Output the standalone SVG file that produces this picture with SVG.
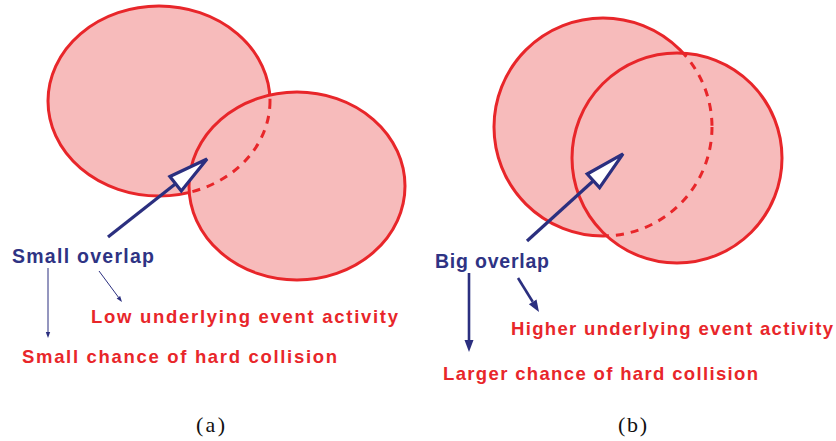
<svg xmlns="http://www.w3.org/2000/svg" width="836" height="441" viewBox="0 0 836 441">
<style>
.fill{fill:#f7bbbb;stroke:#e8262a;stroke-width:3}
.dash{fill:none;stroke:#e8262a;stroke-width:3;stroke-dasharray:8 7}
.navy{font-family:"Liberation Sans",Arial,sans-serif;font-weight:bold;font-size:19.5px;fill:#2e3384}
.red{font-family:"Liberation Sans",Arial,sans-serif;font-weight:bold;font-size:18.5px;fill:#e8262a}
.cap{font-family:"Liberation Serif","DejaVu Serif",serif;font-size:22px;fill:#111}
.big{stroke:#2b2f7f;stroke-width:3.2;fill:none}
.thin{stroke:#2b2f7f;stroke-width:1;fill:none}
.thick{stroke:#2b2f7f;stroke-width:2.6;fill:none}
</style>
<defs>
<clipPath id="clipA"><ellipse cx="297" cy="186" rx="108" ry="94"/></clipPath>
<clipPath id="clipB"><circle cx="677" cy="158" r="105"/></clipPath>
<marker id="hollow" markerUnits="userSpaceOnUse" markerWidth="50" markerHeight="30" refX="0" refY="0" viewBox="-5 -15 50 30" orient="auto" overflow="visible">
<path d="M0,-9.2 L40,0 L0,9.2 Z" fill="#fff" stroke="#2b2f7f" stroke-width="3.2" stroke-linejoin="miter"/>
</marker>
<marker id="smallHead" markerUnits="userSpaceOnUse" markerWidth="10" markerHeight="10" refX="0" refY="0" viewBox="0 -5 10 10" orient="auto" overflow="visible">
<path d="M0,-2.2 L6,0 L0,2.2 Z" fill="#2b2f7f"/>
</marker>
<marker id="thickHead" markerUnits="userSpaceOnUse" markerWidth="16" markerHeight="16" refX="0" refY="0" viewBox="0 -8 16 16" orient="auto" overflow="visible">
<path d="M0,-4.5 L12,0 L0,4.5 Z" fill="#2b2f7f"/>
</marker>
</defs>

<g id="panel-a-left"><ellipse class="fill" cx="159" cy="101" rx="111" ry="95"/></g>
<g id="panel-a-right">
<ellipse class="fill" cx="297" cy="186" rx="108" ry="94"/>
<ellipse class="dash" cx="159" cy="101" rx="111" ry="95" clip-path="url(#clipA)"/>
</g>

<g id="panel-b-left"><circle class="fill" cx="603" cy="127" r="109"/></g>
<g id="panel-b-right">
<circle class="fill" cx="677" cy="158" r="105"/>
<circle class="dash" cx="603" cy="127" r="109" clip-path="url(#clipB)"/>
</g>

<g id="connectors">
<line class="big" x1="108" y1="237" x2="175.6" y2="183.8" marker-end="url(#hollow)"/>
<line class="thin" x1="48" y1="268" x2="48" y2="332" marker-end="url(#smallHead)"/>
<line class="thin" x1="99" y1="271" x2="118.4" y2="297.2" marker-end="url(#smallHead)"/>
<line class="big" x1="527" y1="241" x2="593.4" y2="180.8" marker-end="url(#hollow)"/>
<line class="thick" x1="469" y1="273" x2="469" y2="340" marker-end="url(#thickHead)"/>
<line class="thick" x1="518" y1="278" x2="532.7" y2="301.8" marker-end="url(#thickHead)"/>
</g>

<g id="label-small-overlap"><text class="navy" x="12" y="263" textLength="142" lengthAdjust="spacing">Small overlap</text></g>
<g id="label-low-ue"><text class="red" x="91" y="323" textLength="307" lengthAdjust="spacing">Low underlying event activity</text></g>
<g id="label-small-chance"><text class="red" x="22" y="363" textLength="315" lengthAdjust="spacing">Small chance of hard collision</text></g>
<g id="label-big-overlap"><text class="navy" x="435" y="268" textLength="114" lengthAdjust="spacing">Big overlap</text></g>
<g id="label-higher-ue"><text class="red" x="511" y="335" textLength="322" lengthAdjust="spacing">Higher underlying event activity</text></g>
<g id="label-larger-chance"><text class="red" x="443" y="380" textLength="315" lengthAdjust="spacing">Larger chance of hard collision</text></g>
<g id="caption-a"><text class="cap" x="196" y="432" textLength="29" lengthAdjust="spacing">(a)</text></g>
<g id="caption-b"><text class="cap" x="618" y="432" textLength="29" lengthAdjust="spacing">(b)</text></g>
</svg>
